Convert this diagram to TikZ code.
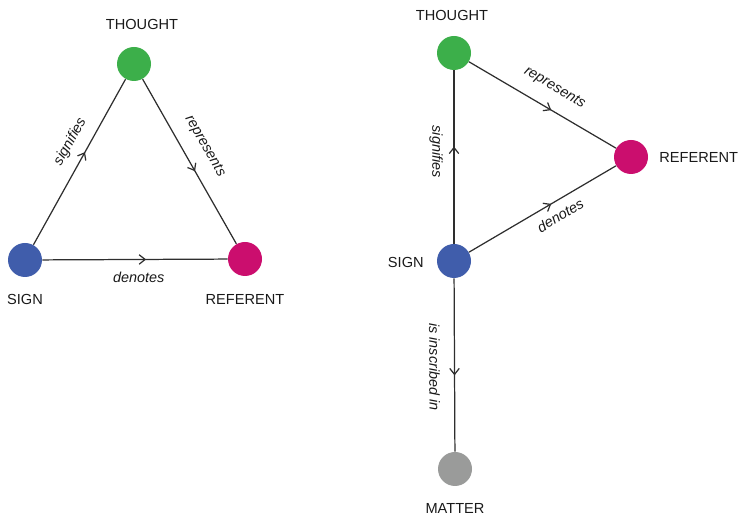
\documentclass[tikz,border=0pt]{standalone}
\usepackage{fontspec}
\setmainfont{Liberation Sans}
\usetikzlibrary{arrows.meta,decorations.markings,positioning}

\definecolor{thoughtgreen}{HTML}{3CAF4A}
\definecolor{signblue}{HTML}{405DAB}
\definecolor{referentred}{HTML}{CB0E6E}
\definecolor{mattergrey}{HTML}{9A9B9A}
\definecolor{linegrey}{HTML}{2E2E2E}

\tikzset{
  dot/.style={circle,inner sep=0pt,minimum size=0.68cm},
  caption/.style={font=\fontsize{8.3}{10}\selectfont,text=black!90,inner sep=0pt},
  verb/.style={font=\fontsize{8.2}{9}\selectfont\itshape,text=black!90,inner sep=6pt},
  midarrow/.style={decoration={markings,
      mark=at position #1 with {\arrow{Straight Barb[length=1.2mm,width=1.9mm]}}},
      postaction={decorate}}
}

\begin{document}
\begin{tikzpicture}
\useasboundingbox (0,0) rectangle (14.78,10.34);

% left triangle
\begin{scope}
  \node[dot,fill=thoughtgreen] (T1) at (2.68,9.06) {};
  \node[dot,fill=signblue] (S1) at (0.50,5.14) {};
  \node[dot,fill=referentred] (R1) at (4.90,5.16) {};

  \node[caption] (T1l) at (2.84,9.86) {THOUGHT};
  \node[caption] (S1l) at (0.50,4.36) {SIGN};
  \node[caption] (R1l) at (4.90,4.36) {REFERENT};
\end{scope}

% right diagram
\begin{scope}
  \node[dot,fill=thoughtgreen] (T2) at (9.08,9.28) {};
  \node[dot,fill=referentred] (R2) at (12.62,7.20) {};
  \node[dot,fill=signblue] (S2) at (9.08,5.12) {};
  \node[dot,fill=mattergrey] (M2) at (9.10,0.96) {};

  \node[caption] (T2l) at (9.04,10.04) {THOUGHT};
  \node[caption,anchor=west] (R2l) at (13.18,7.20) {REFERENT};
  \node[caption,anchor=east] (S2l) at (8.48,5.10) {SIGN};
  \node[caption] (M2l) at (9.10,0.18) {MATTER};
\end{scope}

\begin{scope}[every edge/.style={draw=linegrey,line width=0.7pt,midarrow=0.56}]
  \path (S1) edge node[verb,pos=0.57,above,sloped] {signifies} (T1);
  \path (T1) edge node[verb,pos=0.47,above,sloped,inner sep=8pt] {represents} (R1);
  \path (S1) edge node[verb,pos=0.52,below,inner sep=7pt] {denotes} (R1);

  \path (T2) edge node[verb,pos=0.51,above,sloped,inner sep=8pt] {represents} (R2);
  \path (S2) edge node[verb,pos=0.53,anchor=north,rotate=-90] {signifies} (T2);
  \path (S2) edge node[verb,pos=0.57,below,sloped,inner sep=5pt] {denotes} (R2);
  \path (S2) edge node[verb,pos=0.51,below,sloped,inner sep=8pt] {is inscribed in} (M2);
\end{scope}
\end{tikzpicture}
\end{document}
